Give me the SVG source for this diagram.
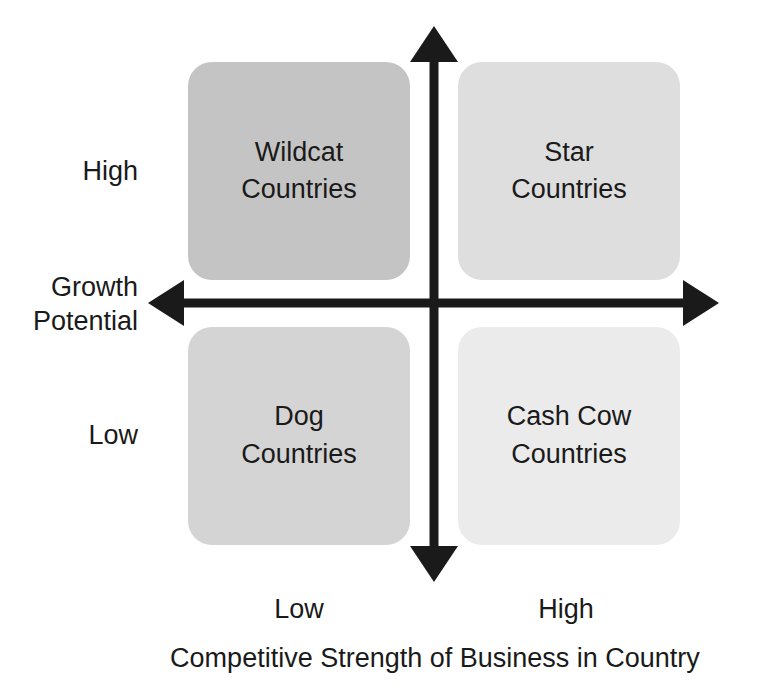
<svg xmlns="http://www.w3.org/2000/svg" width="774" height="696" viewBox="0 0 774 696">
<style>
text{font-family:"Liberation Sans",Arial,sans-serif;font-size:27px;fill:#1a1a1a}
.c{text-anchor:middle}
.r{text-anchor:end}
.ax{stroke:#1a1a1a;stroke-width:9;fill:none}
.hd{fill:#1a1a1a}
</style>
<rect width="774" height="696" fill="#fff"/>
<g id="wildcat"><rect x="188" y="62" width="222" height="218" rx="24" fill="#c4c4c4"/><text class="c" x="299" y="161">Wildcat</text><text class="c" x="299" y="198">Countries</text></g>
<g id="star"><rect x="458" y="62" width="222" height="218" rx="24" fill="#dedede"/><text class="c" x="569" y="161">Star</text><text class="c" x="569" y="198">Countries</text></g>
<g id="dog"><rect x="188" y="327" width="222" height="218" rx="24" fill="#d4d4d4"/><text class="c" x="299" y="425">Dog</text><text class="c" x="299" y="463">Countries</text></g>
<g id="cashcow"><rect x="458" y="327" width="222" height="218" rx="24" fill="#ebebeb"/><text class="c" x="569" y="425">Cash Cow</text><text class="c" x="569" y="463">Countries</text></g>
<g id="connectors">
<line class="ax" x1="434" y1="55" x2="434" y2="555"/>
<polygon class="hd" points="434,26 410,62 458,62"/>
<polygon class="hd" points="434,582 410,546 458,546"/>
<line class="ax" x1="175" y1="303" x2="692" y2="303"/>
<polygon class="hd" points="148,303 184,280 184,326"/>
<polygon class="hd" points="719,303 683,280 683,326"/>
</g>
<g id="labels">
<text class="r" x="138" y="180">High</text>
<text class="r" x="138" y="296">Growth</text>
<text class="r" x="138" y="330">Potential</text>
<text class="r" x="138" y="444">Low</text>
<text class="c" x="299" y="618">Low</text>
<text class="c" x="566" y="618">High</text>
<text class="c" x="435" y="667">Competitive Strength of Business in Country</text>
</g>
</svg>
